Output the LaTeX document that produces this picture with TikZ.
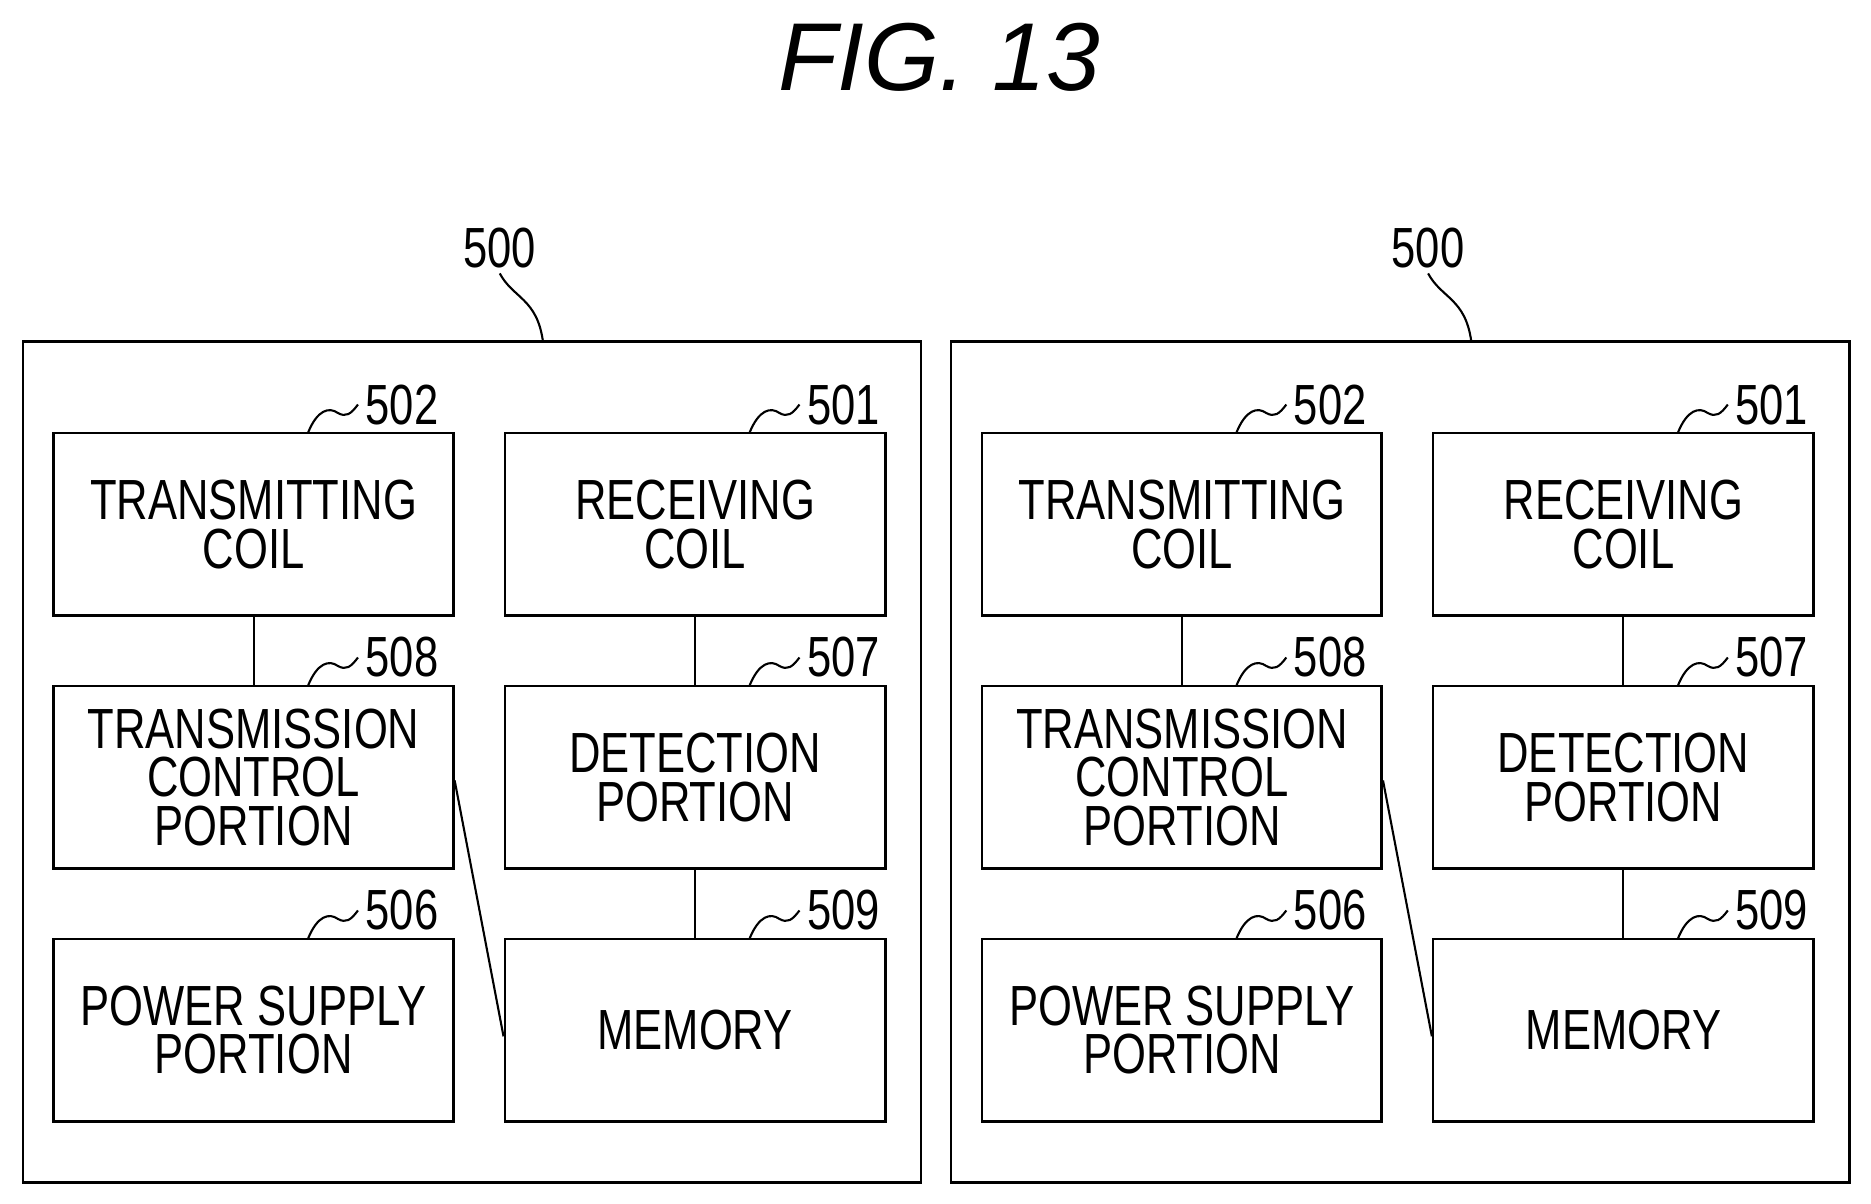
\documentclass[tikz,border=0pt]{standalone}
\usepackage{fontspec}
\setmainfont{Liberation Sans}[FakeStretch=0.77]
\newfontfamily\titlefont{Liberation Sans}
\usetikzlibrary{positioning}
\begin{document}
\begin{tikzpicture}[x=0.02cm,y=-0.02cm,
  block/.style={rectangle, draw=black, line width=1.2pt, minimum width=6.7cm, minimum height=3.06cm, align=center, font=\fontsize{27}{23}\selectfont, inner sep=0pt},
  outer/.style={rectangle, draw=black, line width=1.2pt, minimum width=15.06cm, minimum height=14.1cm, inner sep=0pt},
  refnum/.style={font=\fontsize{27}{22}\selectfont, anchor=west, inner sep=0pt},
  leader/.style={line width=1pt}]
\useasboundingbox (0,0) rectangle (1568,1009);
\node[font=\titlefont\itshape\fontsize{46}{46}\selectfont](title) at (787,48){FIG. 13};
\foreach \dx/\p in {0/a,778/b}{
  \begin{scope}[xshift=\dx*0.02cm]
  \node[outer](box\p) at (395.5,638.5){};
  \node[block](tc\p) at (212.5,439.5){TRANSMITTING\\COIL};
  \node[block, minimum width=6.38cm](rc\p) at (582.5,439.5){RECEIVING\\COIL};
  \node[block](cp\p) at (212.5,651.5){TRANSMISSION\\CONTROL\\PORTION};
  \node[block, minimum width=6.38cm](dp\p) at (582.5,651.5){DETECTION\\PORTION};
  \node[block](ps\p) at (212.5,863.5){POWER SUPPLY\\PORTION};
  \node[block, minimum width=6.38cm](me\p) at (582.5,863.5){MEMORY};
  % connectors
  \draw[line width=1pt] (tc\p.south) -- (cp\p.north);
  \draw[line width=1pt] (rc\p.south) -- (dp\p.north);
  \draw[line width=1pt] (dp\p.south) -- (me\p.north);
  \draw[line width=1pt] ([yshift=-0.05cm]cp\p.east) -- ([yshift=-0.1cm]me\p.west);
  % reference numerals
  \node[refnum](n500\p) at (388,208){500};
  \draw[leader] (n500\p.south) ++(0,4) .. controls (430,250) and (450,250) .. (455,286);
  \foreach \nm/\x/\y/\t in {t/258/363/502,r/628/363/501,c/258/575/508,d/628/575/507,s/258/787/506,m/628/787/509}{
    \node[refnum](l\nm\p) at (\x+48,\y-24){\t};
    \draw[leader] (\x,\y) .. controls (\x+8,\y-20) and (\x+18,\y-22) .. (\x+25,\y-17)
      .. controls (\x+32,\y-13) and (\x+36,\y-16) .. ([xshift=-0.12cm]l\nm\p.west);
  }
  \end{scope}
}
\end{tikzpicture}
\end{document}
